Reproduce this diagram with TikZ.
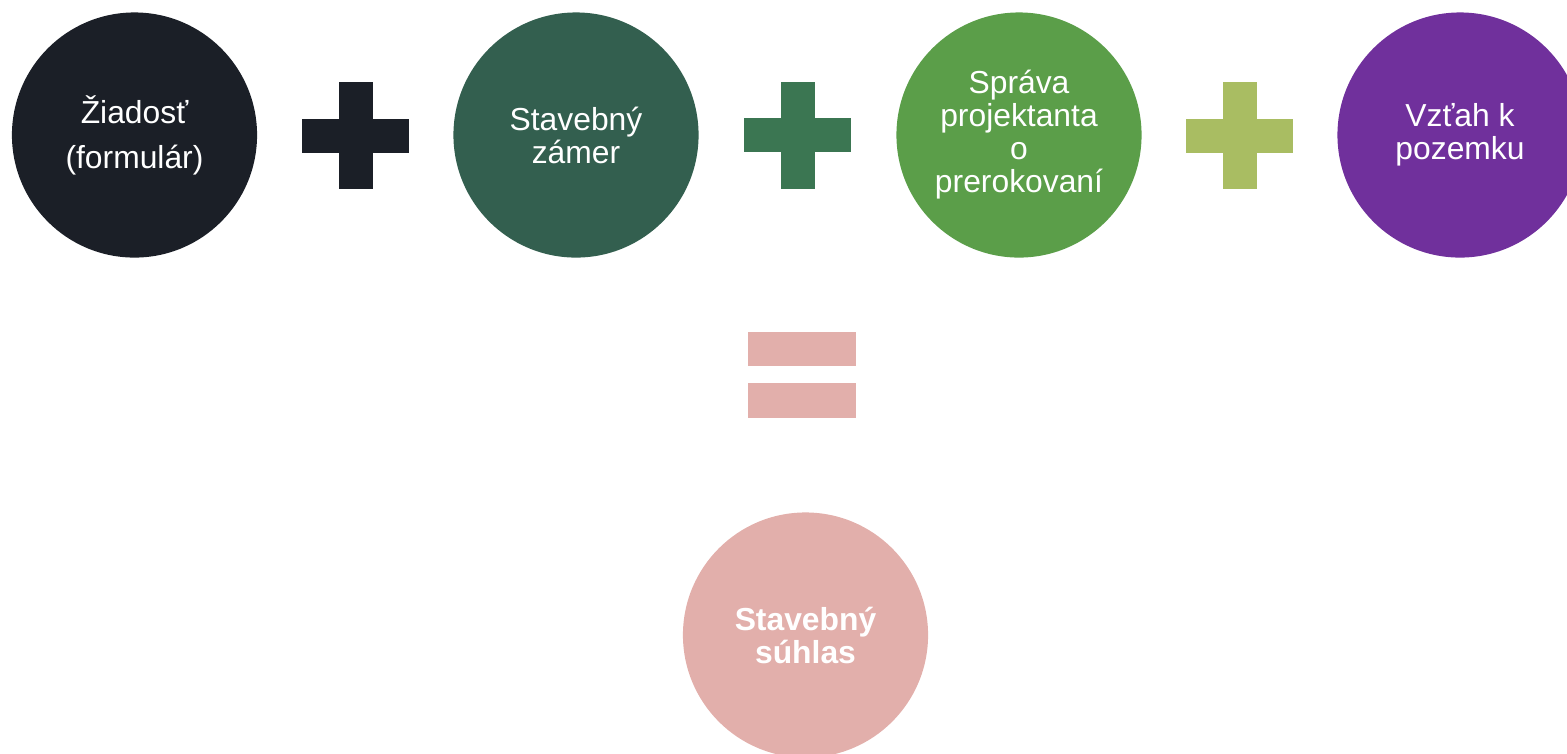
\documentclass[tikz,border=0pt]{standalone}
\usepackage{fontspec}
\setmainfont{Liberation Sans}
\usepackage{xcolor}

\definecolor{darkblue}{HTML}{1B1F27}
\definecolor{darkgreen}{HTML}{335F4F}
\definecolor{midgreen}{HTML}{3B7652}
\definecolor{leafgreen}{HTML}{5B9E49}
\definecolor{olivegreen}{HTML}{A9BD62}
\definecolor{violet}{HTML}{70309C}
\definecolor{rosepink}{HTML}{E2AFAB}

\begin{document}
\begin{tikzpicture}[x=0.01cm,y=-0.01cm,
       every node/.style={font=\fontsize{9.05}{9.39}\selectfont},
       part/.style={circle,minimum size=2.45cm,inner sep=0pt,
                    align=center,text=white},
       plus/.pic={
         \fill (-53.5,-17) rectangle (53.5,17);
         \fill (-17,-53.5) rectangle (17,53.5);
       }]
    \useasboundingbox (0,0) rectangle (1567,753);

    % the four parts of the application
    \node[part,fill=darkblue] (ziadost) at (134.5,135) {\v{Z}iados\v{t}\\[1.2mm](formulár)};
    \node[part,fill=darkgreen] (zamer) at (576,135) {Stavebný\\zámer};
    \node[part,fill=leafgreen] (sprava) at (1019,135) {Správa\\projektanta\\o\\prerokovaní};
    \node[part,fill=violet] (vztah) at (1460,135) {Vz\v{t}ah k\\pozemku};

    % plus signs between them
    \coordinate (plusA) at (355.5,135.5);
    \coordinate (plusB) at (797.5,135);
    \coordinate (plusC) at (1239.5,135.5);
    \pic[darkblue] at (plusA) {plus};
    \pic[midgreen] at (plusB) {plus};
    \pic[olivegreen] at (plusC) {plus};

    % equals sign
    \coordinate (equals) at (801.5,375);
    \fill[rosepink] ([shift={(-54,-43)}]equals) rectangle ([shift={(54,-9)}]equals);
    \fill[rosepink] ([shift={(-54,8)}]equals) rectangle ([shift={(54,43)}]equals);

    % result
    \node[part,fill=rosepink,font=\fontsize{9.05}{9.39}\selectfont\bfseries] (suhlas) at (805.5,635) {Stavebný\\súhlas};
\end{tikzpicture}
\end{document}
